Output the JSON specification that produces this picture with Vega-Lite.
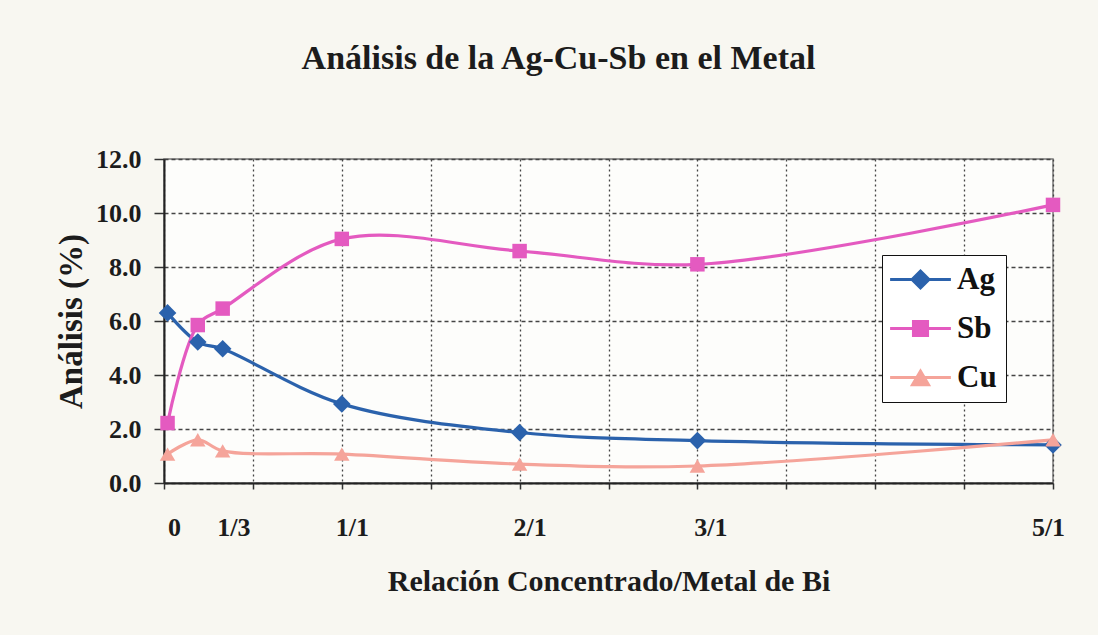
{
  "$schema": "https://vega.github.io/schema/vega-lite/v6.json",
  "width": 889,
  "height": 324,
  "autosize": {"type": "none"},
  "padding": {"left": 164, "top": 159, "right": 45, "bottom": 152},
  "background": "#f8f7f1",
  "title": {
    "text": "Análisis de la Ag-Cu-Sb en el Metal",
    "font": "Liberation Serif",
    "fontSize": 34,
    "fontWeight": "bold",
    "color": "#1c1c1c",
    "anchor": "middle",
    "dx": -50,
    "offset": 70
  },
  "config": {
    "view": {"stroke": "#777777", "strokeWidth": 1.5, "fill": "#fdfdfb"}
  },
  "data": {
    "values": [
      {"rel": 0.02, "pct": 6.30, "serie": "Ag"},
      {"rel": 0.19, "pct": 5.22, "serie": "Ag"},
      {"rel": 0.33, "pct": 4.97, "serie": "Ag"},
      {"rel": 1, "pct": 2.93, "serie": "Ag"},
      {"rel": 2, "pct": 1.87, "serie": "Ag"},
      {"rel": 3, "pct": 1.57, "serie": "Ag"},
      {"rel": 5, "pct": 1.41, "serie": "Ag"},
      {"rel": 0.02, "pct": 2.22, "serie": "Sb"},
      {"rel": 0.19, "pct": 5.85, "serie": "Sb"},
      {"rel": 0.33, "pct": 6.46, "serie": "Sb"},
      {"rel": 1, "pct": 9.04, "serie": "Sb"},
      {"rel": 2, "pct": 8.59, "serie": "Sb"},
      {"rel": 3, "pct": 8.10, "serie": "Sb"},
      {"rel": 5, "pct": 10.30, "serie": "Sb"},
      {"rel": 0.02, "pct": 1.07, "serie": "Cu"},
      {"rel": 0.19, "pct": 1.60, "serie": "Cu"},
      {"rel": 0.33, "pct": 1.19, "serie": "Cu"},
      {"rel": 1, "pct": 1.07, "serie": "Cu"},
      {"rel": 2, "pct": 0.70, "serie": "Cu"},
      {"rel": 3, "pct": 0.63, "serie": "Cu"},
      {"rel": 5, "pct": 1.60, "serie": "Cu"}
    ]
  },
  "encoding": {
    "x": {
      "field": "rel",
      "type": "quantitative",
      "scale": {"domain": [0, 5], "nice": false, "zero": false},
      "axis": {
        "title": "Relación Concentrado/Metal de Bi",
        "titleFont": "Liberation Serif",
        "titleFontSize": 30,
        "titleFontWeight": "bold",
        "titleColor": "#1c1c1c",
        "titlePadding": 26,
        "values": [0, 0.3333, 0.5, 1, 1.5, 2, 2.5, 3, 3.5, 4, 4.5, 5],
        "labelExpr": "datum.value == 0 ? '0' : abs(datum.value - 0.3333) < 0.01 ? '1/3' : datum.value == 1 ? '1/1' : datum.value == 2 ? '2/1' : datum.value == 3 ? '3/1' : datum.value == 5 ? '5/1' : ''",
        "labelFont": "Liberation Serif",
        "labelFontSize": 26,
        "labelFontWeight": "bold",
        "labelColor": "#1c1c1c",
        "labelPadding": 25,
        "labelOffset": {"expr": "datum.value == 5 ? -5 : datum.value == 3 ? 13 : 10"},
        "labelOverlap": false,
        "labelFlush": false,
        "tickSize": 6,
        "tickColor": "#333333",
        "tickWidth": 1.5,
        "tickOpacity": {"expr": "abs(datum.value - 0.3333) < 0.01 ? 0 : 1"},
        "domainColor": "#222222",
        "domainWidth": 2,
        "grid": true,
        "gridColor": "#444444",
        "gridDash": [2, 3],
        "gridWidth": 1.3,
        "gridOpacity": {"expr": "abs(datum.value - 0.3333) < 0.01 ? 0 : 1"}
      }
    },
    "y": {
      "field": "pct",
      "type": "quantitative",
      "scale": {"domain": [0, 12], "nice": false},
      "axis": {
        "title": "Análisis (%)",
        "titleFont": "Liberation Serif",
        "titleFontSize": 33,
        "titleFontWeight": "bold",
        "titleColor": "#1c1c1c",
        "titlePadding": 7,
        "values": [0, 2, 4, 6, 8, 10, 12],
        "format": ".1f",
        "labelFont": "Liberation Serif",
        "labelFontSize": 26,
        "labelFontWeight": "bold",
        "labelColor": "#1c1c1c",
        "labelPadding": 13,
        "tickSize": 10,
        "tickColor": "#333333",
        "tickWidth": 1.5,
        "domainColor": "#222222",
        "domainWidth": 2,
        "grid": true,
        "gridColor": "#444444",
        "gridDash": [4, 3],
        "gridWidth": 1.3
      }
    }
  },
  "layer": [
    {
      "mark": {"type": "line", "interpolate": "catmull-rom", "strokeWidth": 3.2},
      "encoding": {
        "color": {
          "field": "serie",
          "type": "nominal",
          "scale": {"domain": ["Ag", "Sb", "Cu"], "range": ["#2b62ac", "#e45ac0", "#f5a49a"]},
          "legend": {
            "title": null,
            "orient": "none",
            "legendX": 718,
            "legendY": 96,
            "padding": 9,
            "strokeColor": "#111111",
            "fillColor": "#ffffff",
            "labelFont": "Liberation Serif",
            "labelFontSize": 31,
            "labelFontWeight": "bold",
            "labelColor": "#111111",
            "symbolType": "circle",
            "symbolSize": 256,
            "symbolStrokeWidth": 3,
            "symbolOffset": 14,
            "labelOffset": 21,
            "rowPadding": 17,
            "encode": {
              "symbols": {
                "update": {
                  "shape": {"signal": "datum.value == 'Ag' ? 'M-3.8,0H3.8M-1.06,0L0,-1.06L1.06,0L0,1.06Z' : datum.value == 'Sb' ? 'M-3.8,0H3.8M-0.88,-0.88H0.88V0.88H-0.88Z' : 'M-3.8,0H3.8M-1,0.9L1,0.9L0,-0.8Z'"},
                  "fill": {"scale": "color", "field": "value"},
                  "stroke": {"scale": "color", "field": "value"},
                  "strokeWidth": {"value": 3},
                  "opacity": {"value": 1}
                }
              }
            }
          }
        }
      }
    },
    {
      "transform": [{"filter": "datum.serie == 'Ag'"}],
      "mark": {"type": "point", "filled": true, "opacity": 1, "shape": "diamond", "size": 310},
      "encoding": {"color": {"field": "serie", "type": "nominal"}}
    },
    {
      "transform": [{"filter": "datum.serie == 'Sb'"}],
      "mark": {"type": "point", "filled": true, "opacity": 1, "shape": "square", "size": 210},
      "encoding": {"color": {"field": "serie", "type": "nominal"}}
    },
    {
      "transform": [{"filter": "datum.serie == 'Cu'"}],
      "mark": {"type": "point", "filled": true, "opacity": 1, "shape": "triangle-up", "size": 240},
      "encoding": {"color": {"field": "serie", "type": "nominal"}}
    }
  ]
}
